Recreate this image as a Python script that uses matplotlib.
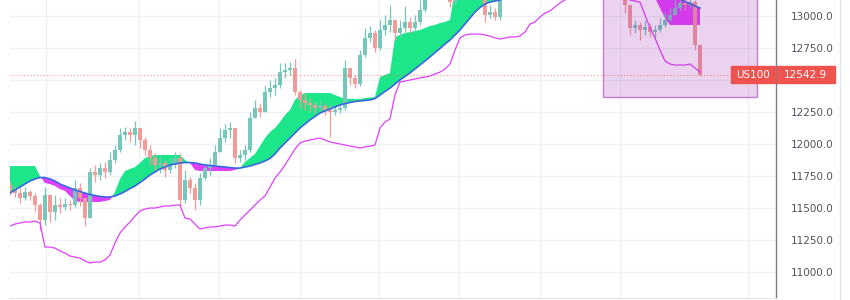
import numpy as np
import matplotlib
matplotlib.use("Agg")
import matplotlib.pyplot as plt
from matplotlib.patches import Rectangle
from matplotlib.lines import Line2D
from matplotlib.transforms import blended_transform_factory

# US100 candles (one bar every 5 px), open = previous close
first_open = 11680
close = [11641, 11617, 11578, 11625, 11594, 11523, 11406, 11602, 11469, 11523,
         11508, 11531, 11523, 11656, 11578, 11422, 11781, 11758, 11812, 11781,
         11875, 11953, 12070, 12094, 12070, 12125, 12031, 11953, 11891, 11836,
         11852, 11797, 11836, 11891, 11562, 11719, 11656, 11562, 11734, 11812,
         11836, 11937, 12047, 12109, 12125, 11891, 11914, 11953, 12203, 12281,
         12250, 12406, 12437, 12461, 12562, 12578, 12594, 12406, 12344, 12320,
         12305, 12281, 12297, 12266, 12250, 12266, 12281, 12594, 12516, 12469,
         12695, 12828, 12867, 12750, 12891, 12930, 12969, 12867, 12906, 12953,
         12906, 12953, 13047, 13242, 13320, 13359, 13281, 13242, 13109, 13164,
         13242, 13281, 13320, 13281, 13203, 13008, 13031, 12992, 13164,
         13242, 13320, 13359, 13437, 13477, 13437, 13516, 13555, 13594, 13555,
         13633, 13672, 13594, 13633, 13672, 13711, 13672, 13594, 13555, 13516,
         13437, 13398, 13320, 13242,
         13086, 12906, 12930, 12891, 12914, 12875, 12891, 12930, 12969, 13008,
         13062, 13102, 13086, 13109, 12773, 12542.9]
high = [11703, 11672, 11656, 11664, 11641, 11617, 11539, 11664, 11578, 11602,
        11578, 11578, 11562, 11719, 11695, 11578, 11812, 11836, 11852, 11859,
        11937, 11992, 12125, 12133, 12125, 12180, 12109, 12055, 11992, 11930,
        11914, 11875, 11891, 11937, 11930, 11797, 11742, 11695, 11773, 11852,
        11891, 11992, 12125, 12156, 12172, 12125, 11953, 11992, 12250, 12344,
        12320, 12461, 12500, 12516, 12633, 12633, 12641, 12664, 12422, 12398,
        12359, 12328, 12344, 12320, 12305, 12305, 12312, 12656, 12578, 12539,
        12734, 12906, 12922, 12891, 12969, 13008, 13086, 12969, 12969, 13078,
        12992, 13008, 13125, 13320, 13398, 13437, 13398, 13320, 13203, 13219,
        13320, 13359, 13398, 13359, 13297, 13164, 13086, 13062, 13219,
        13320, 13398, 13437, 13516, 13555, 13516, 13594, 13633, 13672, 13633,
        13711, 13750, 13687, 13711, 13750, 13789, 13750, 13687, 13633, 13594,
        13531, 13477, 13398, 13344,
        13203, 13086, 12969, 12953, 12969, 12945, 12930, 12984, 13031, 13062,
        13125, 13164, 13148, 13164, 13125, 12773]
low = [11602, 11586, 11539, 11562, 11562, 11469, 11328, 11367, 11391, 11406,
       11461, 11484, 11484, 11508, 11516, 11359, 11422, 11703, 11719, 11734,
       11758, 11852, 11937, 12031, 12016, 11992, 11969, 11914, 11836, 11781,
       11773, 11742, 11773, 11812, 11508, 11539, 11617, 11484, 11523, 11719,
       11758, 11836, 11937, 12016, 12047, 11852, 11859, 11875, 11937, 12203,
       12211, 12250, 12367, 12383, 12437, 12516, 12539, 12383, 12281, 12266,
       12250, 12242, 12250, 12227, 12055, 12227, 12242, 12266, 12461, 12437,
       12453, 12680, 12797, 12719, 12734, 12852, 12875, 12812, 12836, 12875,
       12867, 12891, 12930, 13031, 13219, 13281, 13219, 13187, 13070, 13086,
       13141, 13203, 13242, 13219, 13141, 12953, 12984, 12969, 12969,
       13164, 13242, 13281, 13359, 13398, 13359, 13437, 13477, 13516, 13477,
       13555, 13594, 13516, 13555, 13594, 13633, 13594, 13516, 13477, 13437,
       13359, 13320, 13242, 13164,
       13023, 12852, 12867, 12812, 12852, 12836, 12828, 12875, 12914, 12953,
       13008, 13047, 13047, 13062, 12734, 12531]

# smooth moving average (blue)
ma = [11617, 11641, 11664, 11687, 11711, 11727, 11738, 11738, 11727, 11711,
      11687, 11672, 11656, 11641, 11629, 11617, 11605, 11598, 11590, 11586,
      11586, 11594, 11609, 11629, 11652, 11672, 11699, 11727, 11758, 11781,
      11805, 11820, 11836, 11844, 11852, 11855, 11855, 11852, 11844, 11836,
      11832, 11828, 11824, 11820, 11816, 11812, 11812, 11820, 11828, 11840,
      11852, 11867, 11887, 11922, 11969, 12008, 12047, 12086, 12125, 12156,
      12188, 12215, 12242, 12258, 12273, 12289, 12305, 12316, 12324, 12332,
      12336, 12340, 12344, 12355, 12383, 12410, 12437, 12469, 12500, 12527,
      12555, 12586, 12617, 12648, 12680, 12715, 12746, 12781, 12812, 12852,
      12891, 12937, 12984, 13031, 13066, 13094, 13109, 13117, 13125,
      13141, 13156, 13180, 13203, 13227, 13250, 13273, 13297, 13312, 13328,
      13344, 13352, 13359, 13359, 13359, 13352, 13344, 13336, 13328, 13312,
      13297, 13281, 13266, 13250,
      13234, 13219, 13211, 13203, 13195, 13187, 13180, 13172, 13164, 13156,
      13148, 13133, 13113, 13098, 13078, 13062]

# stepped signal line; green where above ma, magenta where below
signal = [11828, 11828, 11828, 11828, 11828, 11828, 11750, 11695, 11687, 11672,
          11648, 11633, 11594, 11555, 11547, 11547, 11547, 11547, 11547, 11555,
          11562, 11625, 11727, 11789, 11805, 11820, 11852, 11891, 11906, 11914,
          11914, 11914, 11914, 11914, 11914, 11875, 11852, 11797, 11789, 11789,
          11789, 11789, 11789, 11789, 11789, 11797, 11812, 11859, 11891, 11922,
          11984, 12047, 12094, 12125, 12172, 12227, 12266, 12344, 12383, 12398,
          12398, 12398, 12398, 12398, 12398, 12383, 12367, 12352, 12352, 12352,
          12352, 12359, 12363, 12367, 12523, 12539, 12555, 12836, 12852, 12867,
          12875, 12883, 12891, 12906, 12922, 12930, 12945, 12953, 12969, 13203,
          13219, 13234, 13250, 13266, 13281, 13297, 13312, 13328, 13344,
          13359, 13375, 13391, 13406, 13422, 13437, 13437, 13437, 13437, 13437,
          13437, 13437, 13422, 13406, 13391, 13375, 13359, 13344, 13328, 13312,
          13297, 13281, 13250, 13219,
          13187, 13172, 13164, 13156, 13148, 13148, 13141, 13062, 12984, 12930,
          12930, 12930, 12930, 12930, 12930, 12930]

# lower envelope (violet line)
lower = [11359, 11375, 11383, 11391, 11391, 11398, 11383, 11195, 11195, 11187,
         11164, 11148, 11125, 11117, 11109, 11086, 11070, 11078, 11078, 11094,
         11133, 11227, 11305, 11352, 11391, 11437, 11477, 11492, 11500, 11500,
         11508, 11516, 11516, 11523, 11523, 11422, 11414, 11375, 11336, 11344,
         11352, 11352, 11359, 11367, 11367, 11359, 11406, 11445, 11484, 11523,
         11562, 11594, 11664, 11734, 11781, 11836, 11898, 11961, 12008, 12023,
         12031, 12039, 12047, 12031, 12016, 12008, 12000, 11992, 11984, 11977,
         11969, 11977, 11984, 11992, 12125, 12172, 12195, 12383, 12484, 12492,
         12500, 12508, 12516, 12523, 12531, 12547, 12562, 12586, 12625, 12734,
         12828, 12852, 12859, 12859, 12859, 12852, 12844, 12828, 12820,
         12828, 12836, 12836, 12844, 12875, 12937, 12953, 12992, 13023, 13039,
         13070, 13102, 13125, 13164, 13187, 13203, 13219, 13227, 13234, 13234,
         13227, 13219, 13203, 13172,
         13148, 13125, 13117, 13109, 13008, 12906, 12828, 12734, 12648, 12625,
         12617, 12617, 12617, 12625, 12594, 12562]

yticks = [11000, 11250, 11500, 11750, 12000, 12250, 12500, 12750, 13000]
symbol = "US100"
last = close[-1]

fig = plt.figure(figsize=(8.5, 3), dpi=100)
ax = fig.add_axes([10 / 850, 2 / 300, 766 / 850, 298 / 300])

x = np.arange(len(close))
c = np.array(close)
o = np.array([first_open] + close[:-1])
up = c >= o
col = np.where(up, "#76c7ba", "#f29b98")

m = np.array(ma)
s = np.array(signal)
ax.fill_between(x, m, s, where=s >= m, interpolate=True, color="#1de589", lw=0, zorder=2)
ax.fill_between(x, m, s, where=s < m, interpolate=True, color="#e040fb", lw=0, zorder=2)

ax.vlines(x, low, high, colors=col, lw=0.9, zorder=3)
ax.bar(x, c - o, bottom=o, width=0.7, color=col, lw=0, zorder=3)

ax.plot(x, ma, color="#3a66e0", lw=1.2, zorder=4)
ax.plot(x, lower, color="#e040fb", lw=0.9, zorder=4)

ax.axhline(last, color="#ef5350", lw=0.8, ls=(0, (1, 2)), alpha=0.6, zorder=4)

# drawn range box
ax.add_patch(Rectangle((118.6, 12367), 30.8, 1200, facecolor=(0.61, 0.15, 0.69, 0.2),
                       edgecolor=(0.61, 0.15, 0.69, 0.55), lw=1, zorder=5))

ax.set_xlim(0, 153.2)
ax.set_ylim(10797, 13125)

# the 12500.0 label sits under the price tag
ax.set_yticks(yticks)
ax.set_yticklabels(["" if t == 12500 else f"{t:.1f}" for t in yticks])
ax.yaxis.tick_right()
ax.tick_params(axis="y", length=0, pad=11, labelsize=7.5, labelcolor="#50535e")
ax.set_xticks([7.2, 25.8, 41.8, 58, 73.8, 89.8, 106, 122, 147.6])
ax.tick_params(axis="x", length=0, labelbottom=False)
ax.grid(True, color="#eef1f7", lw=1, zorder=0)
ax.set_axisbelow(True)

for sp in ["top", "left"]:
    ax.spines[sp].set_visible(False)
ax.spines["right"].set_color("#7b7e87")
ax.spines["right"].set_linewidth(1)
ax.spines["bottom"].set_color("#e3e6ed")

fig.add_artist(Line2D([840 / 850, 840 / 850], [0, 1], color="#e3e6ed", lw=1))

# price labels
tr = blended_transform_factory(fig.transFigure, ax.transData)
ax.add_patch(Rectangle((731 / 850, last - 70), 44 / 850, 140, transform=tr,
                       color="#ef5350", clip_on=False, zorder=10))
ax.add_patch(Rectangle((776.5 / 850, last - 70), 58.5 / 850, 140, transform=tr,
                       color="#ef5350", clip_on=False, zorder=10))
ax.text(753 / 850, last, symbol, transform=tr, ha="center", va="center",
        color="white", fontsize=7.5, zorder=11)
ax.text(805.5 / 850, last, f"{last:.1f}", transform=tr, ha="center", va="center",
        color="white", fontsize=7.5, zorder=11)

fig.savefig("out.png", dpi=100)
